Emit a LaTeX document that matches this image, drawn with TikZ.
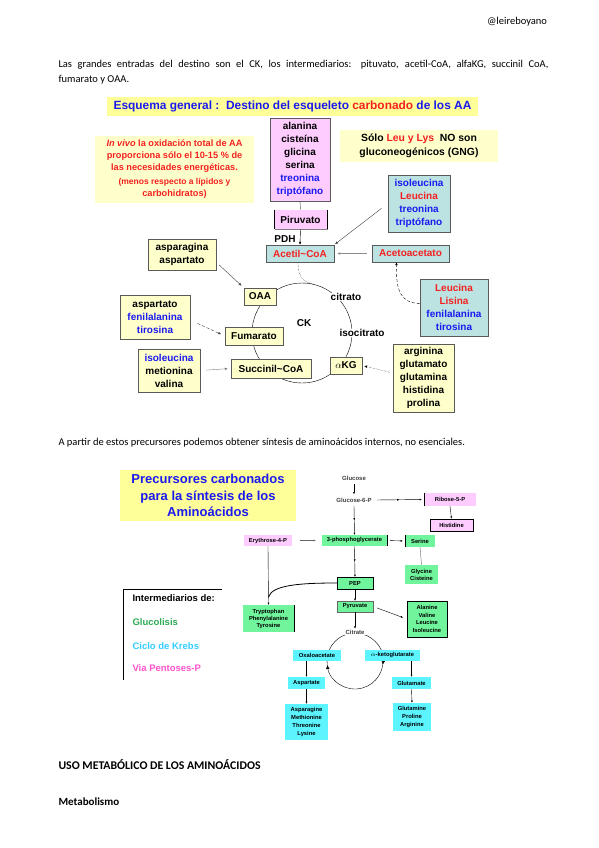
\documentclass[tikz,border=0pt]{standalone}
\usepackage{fontspec}
\setmainfont{Carlito}
\newfontfamily\arialf{Liberation Sans}
\usetikzlibrary{arrows.meta,decorations.markings,shadows}
\definecolor{paleyel}{HTML}{FFFFCC}
\definecolor{titleyel}{HTML}{FFFF99}
\definecolor{pinkbox}{HTML}{FFCCFF}
\definecolor{bluebox}{HTML}{BCE2E2}
\definecolor{greenbox}{HTML}{70F59C}
\definecolor{cyanbox}{HTML}{5CF5FF}
\definecolor{aablue}{HTML}{1A1AF0}
\definecolor{aared}{HTML}{F52020}
\definecolor{leggreen}{HTML}{2EAA55}
\definecolor{legcyan}{HTML}{33CCFF}
\definecolor{legpink}{HTML}{FF55CC}
\tikzset{
  aabox/.style={draw=black!65, fill=paleyel, align=center, inner sep=0pt,
    font=\arialf\bfseries\fontsize{10}{13}\selectfont,
    drop shadow={shadow xshift=0.8pt, shadow yshift=-0.8pt, fill=black!50, opacity=1}},
  smallbox/.style={fill=greenbox, align=center, inner sep=0pt,
    font=\arialf\bfseries\fontsize{5.8}{7}\selectfont},
  smalltxt/.style={font=\arialf\bfseries\fontsize{6}{7}\selectfont, text=black!75},
  cktxt/.style={font=\arialf\bfseries\fontsize{10}{12}\selectfont},
  legtxt/.style={anchor=west, font=\arialf\bfseries\fontsize{9.5}{11}\selectfont},
  bodytxt/.style={anchor=west, font=\fontsize{10.5}{15}\selectfont},
  arr/.style={-{Latex[length=3pt,width=2.5pt]}},
  smallarr/.style={-{Latex[length=2.2pt,width=2pt]}},
  multiarr/.style={postaction={decorate}, decoration={markings,
    mark=at position 0.5 with {\arrow{Latex[length=2.2pt,width=2pt]}}},
    -{Latex[length=2.2pt,width=2pt]}}
}
\begin{document}
\begin{tikzpicture}[x=1pt, y=-1pt]
  \fill[white] (0,0) rectangle (599,848);
  \useasboundingbox (0,0) rectangle (599,848);

  % page text
  \node[bodytxt, anchor=center] (user) at (517,22) {@leireboyano};
  \node[bodytxt, align=left] (intro) at (55,72)
    {\makebox[490pt][s]{Las grandes entradas del destino son el CK, los intermediarios: pituvato, acetil-CoA, alfaKG, succinil CoA,}\\
     fumarato y OAA.};
  \node[bodytxt] (partir) at (55,443) {A partir de estos precursores podemos obtener síntesis de aminoácidos internos, no esenciales.};
  \node[bodytxt, font=\bfseries\fontsize{11.8}{15}\selectfont] (uso) at (55,765) {USO METABÓLICO DE LOS AMINOÁCIDOS};
  \node[bodytxt, font=\bfseries\fontsize{11}{15}\selectfont] (metab) at (55,802) {Metabolismo};

  % esquema general
  \node[fill=titleyel, minimum width=371, minimum height=19, font=\arialf\bfseries\fontsize{11.9}{13}\selectfont, text=aablue]
    (title1) at (292.5,106.5) {Esquema general :\ \ Destino del esqueleto {\color{aared}carbonado} de los AA};
  \node[fill=paleyel, minimum width=159, minimum height=67, align=center, text=aared, inner sep=0pt,
    font=\arialf\bfseries\fontsize{9.2}{12}\selectfont]
    (vivo) at (174.5,169.5) {\textit{In vivo} la oxidación total de AA\\proporciona sólo el 10-15 \% de\\las necesidades energéticas.\\[2pt]
      \fontsize{8.5}{11.5}\selectfont(menos respecto a lípidos y\\carbohidratos)};
  \node[fill=paleyel, minimum width=158, minimum height=32, align=center, inner sep=0pt,
    font=\arialf\bfseries\fontsize{10.4}{13.5}\selectfont]
    (leulys) at (419,146) {Sólo {\color{aared}Leu y Lys}\ \ NO son\\gluconeogénicos (GNG)};

  \draw (302,333) circle[radius=50pt];
  \node[cktxt] (ck) at (304,323) {CK};
  \node[cktxt, fill=white, inner sep=0.5pt] (citr) at (346,297) {citrato};
  \node[cktxt, fill=white, inner sep=0.5pt] (isocitr) at (362,333) {isocitrato};

  \node[aabox, fill=pinkbox, minimum width=60, minimum height=83] (gly) at (300,159.5)
    {alanina\\cisteína\\glicina\\serina\\{\color{aablue}treonina}\\{\color{aablue}triptófano}};
  \node[aabox, fill=bluebox, minimum width=62, minimum height=57] (ketoAA) at (419,203.5)
    {\color{aablue}isoleucina\\{\color{aared}Leucina}\\{\color{aablue}treonina}\\{\color{aablue}triptófano}};
  \node[aabox, fill=pinkbox, draw=none, drop shadow={opacity=0}, minimum width=53, minimum height=19] (piruv) at (300.5,219.5) {Piruvato};
  \node[cktxt] (pdh) at (285,239) {PDH};
  \node[aabox, fill=bluebox, text=aared, minimum width=68, minimum height=17] (acetil) at (300,253.5) {Acetil\char`~CoA};
  \node[aabox, fill=bluebox, text=aared, minimum width=77, minimum height=17] (acetoac) at (410.5,253.5) {Acetoacetato};
  \node[aabox, fill=bluebox, minimum width=68, minimum height=57] (ketoleu) at (454,307.5)
    {\color{aared}Leucina\\{\color{aared}Lisina}\\{\color{aablue}fenilalanina}\\{\color{aablue}tirosina}};
  \node[aabox, minimum width=68, minimum height=31] (aspn) at (182,254.5) {asparagina\\aspartato};
  \node[aabox, minimum width=32, minimum height=17] (oaa) at (260,296.5) {OAA};
  \node[aabox, minimum width=70, minimum height=44] (aromat) at (155,317)
    {aspartato\\{\color{aablue}fenilalanina}\\{\color{aablue}tirosina}};
  \node[aabox, minimum width=58, minimum height=18] (fum) at (254,336) {Fumarato};
  \node[aabox, minimum width=62, minimum height=43] (bcaa) at (169,370.5)
    {{\color{aablue}isoleucina}\\metionina\\valina};
  \node[aabox, minimum width=80, minimum height=19] (succ) at (271,368.5) {Succinil\char`~CoA};
  \node[aabox, minimum width=32, minimum height=17] (akg) at (346,365.5) {$\alpha$KG};
  \node[aabox, minimum width=61, minimum height=68] (glu) at (423.5,378)
    {arginina\\glutamato\\glutamina\\histidina\\prolina};
  \foreach \s in {west,east} { \draw[semithick] (piruv.north \s) -- (piruv.south \s); }

  \coordinate (ckin) at (313,284);
  \draw[black!70] (gly.south) -- (piruv.north);
  \draw[arr] (piruv.south) -- (acetil.north);
  \draw[arr, black!75, shorten <=8pt, shorten >=1pt] (ketoAA.west) -- (acetil.north east);
  \draw[arr, black!45, shorten <=5pt, shorten >=3pt] (acetoac.west) -- (acetil.east);
  \draw[arr, densely dashed] ([yshift=4pt]ketoleu.west) .. controls (400,303) and (396,290) .. ([xshift=-14pt]acetoac.south);
  \draw[arr, black!75, shorten <=4pt, shorten >=3pt] ([yshift=8pt]aspn.south east) -- (oaa.north west);
  \draw[arr, densely dashed, black!75, shorten <=8pt, shorten >=4pt] ([yshift=-3pt]aromat.east) -- (fum.west);
  \draw[arr, black!50, shorten <=6pt, shorten >=3pt] (bcaa.east) -- (succ.west);
  \draw[arr, densely dotted, shorten >=2pt, shorten <=3pt] ([yshift=5pt]glu.west) -- (akg.east);
  \draw[densely dotted] ([xshift=-2pt]acetil.south) .. controls (298,278) and (304,282) .. (ckin);

  % precursores carbonados
  \node[fill=titleyel, minimum width=176, minimum height=51, align=center, text=aablue,
    font=\arialf\bfseries\fontsize{13}{16.5}\selectfont]
    (title2) at (208,495.5) {Precursores carbonados\\para la síntesis de los\\Aminoácidos};
  \node[smalltxt] (glc) at (354,478) {Glucose};
  \node[smalltxt] (g6p) at (354,500) {Glucose-6-P};
  \node[smallbox, fill=pinkbox, minimum width=52, minimum height=13] (rib) at (450,499.5) {Ribose-5-P};
  \node[smallbox, fill=pinkbox, draw, semithick, minimum width=43, minimum height=12] (his) at (451.5,525) {Histidine};
  \node[smallbox, minimum width=65, minimum height=11] (pg3) at (354.5,540.5) {3-phosphoglycerate};
  \node[smallbox, fill=pinkbox, minimum width=48, minimum height=11] (ery) at (268,540.5) {Erythrose-4-P};
  \node[smallbox, minimum width=30, minimum height=12] (ser) at (420,541) {Serine};
  \node[smallbox, minimum width=33, minimum height=19] (glycys) at (421.5,574.5) {Glycine\\Cisteine};
  \node[smallbox, draw, minimum width=36, minimum height=12] (pep) at (355,583) {PEP};
  \node[smallbox, draw=black!60, minimum width=36, minimum height=11] (pyr) at (355,606.5) {Pyruvate};
  \node[smallbox, minimum width=51, minimum height=27] (trp) at (268.5,618.5) {Tryptophan\\Phenylalanine\\Tyrosine};
  \node[smallbox, draw, minimum width=40, minimum height=36, font=\arialf\bfseries\fontsize{5.8}{7.8}\selectfont] (ala) at (427,619)
    {Alanine\\Valine\\Leucine\\Isoleucine};
  \foreach \n in {pg3,trp} { \draw[semithick] (\n.north east) -- (\n.south east); }
  \foreach \n in {rib,ser} { \draw[semithick] (\n.north west) -- (\n.south west); }

  \coordinate (tcc) at (355,661);
  \draw[-{Latex[length=4pt,width=3.5pt]}] ([shift={(75:28pt)}]tcc) arc[start angle=75, end angle=-8, radius=28pt];
  \draw[-{Latex[length=4pt,width=3.5pt]}] ([shift={(-8:28pt)}]tcc) arc[start angle=-8, end angle=-172, radius=28pt];
  \draw ([shift={(-172:28pt)}]tcc) arc[start angle=-172, end angle=-255, radius=28pt];
  \node[smalltxt, fill=white, inner sep=1pt] (cit) at (355,632) {Citrate};
  \node[smallbox, fill=cyanbox, minimum width=48, minimum height=11] (oxa) at (317,655.5) {Oxaloacetate};
  \node[smallbox, fill=cyanbox, minimum width=55, minimum height=11] (akg2) at (392.5,655.5) {$\alpha$-ketoglutarate};
  \node[smallbox, fill=cyanbox, minimum width=37, minimum height=12] (asp) at (306.5,683) {Aspartate};
  \node[smallbox, fill=cyanbox, minimum width=39, minimum height=12] (glu2) at (411.5,683) {Glutamate};
  \node[smallbox, fill=cyanbox, minimum width=43, minimum height=36, font=\arialf\bfseries\fontsize{5.8}{7.8}\selectfont] (aspfam) at (306.5,722)
    {Asparagine\\Methionine\\Threonine\\Lysine};
  \node[smallbox, fill=cyanbox, minimum width=38, minimum height=28, font=\arialf\bfseries\fontsize{5.8}{7.8}\selectfont] (glufam) at (412,717)
    {Glutamine\\Proline\\Arginine};

  \coordinate (trpjoin) at (268.5,597);
  \draw[smallarr] (glc) -- (g6p);
  \draw[multiarr, shorten <=2pt, shorten >=2pt] (g6p.east) -- (rib.west);
  \draw[smallarr] (rib.south) -- (his.north);
  \draw[multiarr] (g6p.south) -- (pg3.north);
  \draw[smallarr, shorten <=3pt, shorten >=2pt] (pg3.east) -- (ser.west);
  \draw[smallarr, black!60, shorten <=8pt, shorten >=6pt] (ery.east) -- (pg3.west);
  \draw[black!60] (ser.south) -- (glycys.north);
  \draw[multiarr] (pg3.south) -- (pep.north);
  \draw[smallarr] (pep.south) -- (pyr.north);
  \draw[smallarr, shorten <=4pt, shorten >=4pt] (pyr.east) -- (ala.west);
  \draw[smallarr] (pyr.south) -- (cit.north);
  \draw[smallarr] (ery.south) -- (trp.north);
  \draw[thick] (pep.west) .. controls (300,583) and (272,585) .. (trpjoin);
  \draw[smallarr] (oxa.south -| asp.north) -- (asp.north);
  \draw[smallarr] (asp.south) -- (aspfam.north);
  \draw[smallarr] (akg2.south -| glu2.north) -- (glu2.north);
  \draw[smallarr] (glu2.south) -- (glufam.north);

  % leyenda
  \draw (123,680) -- (123,589) -- (222,589);
  \node[legtxt] (legtit) at (129,598) {Intermediarios de:};
  \node[legtxt, text=leggreen] (leggly) at (129,622) {Glucolisis};
  \node[legtxt, text=legcyan] (legkrebs) at (129,646) {Ciclo de Krebs};
  \node[legtxt, text=legpink] (legpp) at (129,668) {Via Pentoses-P};
\end{tikzpicture}
\end{document}
